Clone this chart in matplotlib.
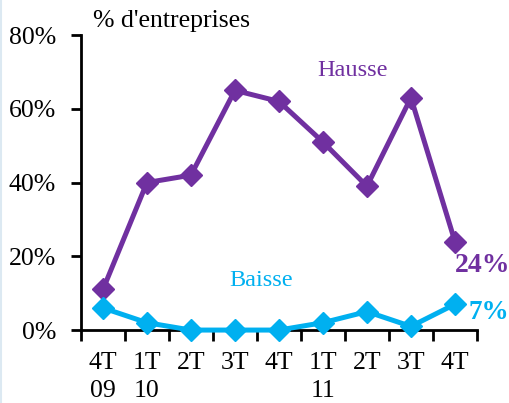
import numpy as np
import matplotlib.pyplot as plt
from matplotlib.lines import Line2D

plt.rcParams['font.family'] = ['Liberation Serif', 'DejaVu Serif']

trimestres = ['4T\n09', '1T\n10', '2T', '3T', '4T', '1T\n11', '2T', '3T', '4T']
hausse = [11, 40, 42, 65, 62, 51, 39, 63, 24]
baisse = [6, 2, 0, 0, 0, 2, 5, 1, 7]

violet = '#7030A0'
cyan = '#00B0F0'

fig = plt.figure(figsize=(5.09, 4.03), dpi=100)
ax = fig.add_axes([0.159, 0.181, 0.778, 0.732])

x = np.arange(len(trimestres))
ax.plot(x, hausse, color=violet, lw=3.6, marker='D', ms=11, clip_on=False)
ax.plot(x, baisse, color=cyan, lw=3.6, marker='D', ms=11, clip_on=False, zorder=3)

ax.set_xlim(-0.5, len(trimestres) - 0.5)
ax.set_ylim(0, 80)
ax.set_yticks([0, 20, 40, 60, 80])
ax.set_yticklabels(['0%', '20%', '40%', '60%', '80%'])
ax.set_xticks(x)
ax.set_xticklabels(trimestres, linespacing=1.32, va='top')
ax.set_xticks(np.arange(-0.5, len(trimestres)), minor=True)

ax.tick_params(axis='both', labelsize=18.5, width=2, color='black')
ax.tick_params(axis='y', length=7, direction='out', pad=11)
ax.tick_params(axis='x', which='major', length=0, pad=16)
ax.tick_params(axis='x', which='minor', length=8, width=2, direction='out')

for s in ['top', 'right']:
    ax.spines[s].set_visible(False)
for s in ['left', 'bottom']:
    ax.spines[s].set_linewidth(2)

fig.text(0.183, 0.933, "% d'entreprises", fontsize=18.5, va='baseline')
ax.text(5.68, 70.5, 'Hausse', color=violet, fontsize=17.5, ha='center', va='center')
ax.text(3.6, 13.5, 'Baisse', color=cyan, fontsize=17.5, ha='center', va='center')
ax.text(8.0, 17.5, '%d%%' % hausse[-1], color=violet, fontsize=20, fontweight='bold',
        va='center')
ax.text(8.3, 4.8, '%d%%' % baisse[-1], color=cyan, fontsize=19.5, fontweight='bold',
        va='center')

fig.add_artist(Line2D([0.002, 0.002], [0, 1], color='#dce9f2', lw=1.5,
                      transform=fig.transFigure))

fig.savefig('out.png', dpi=100)
